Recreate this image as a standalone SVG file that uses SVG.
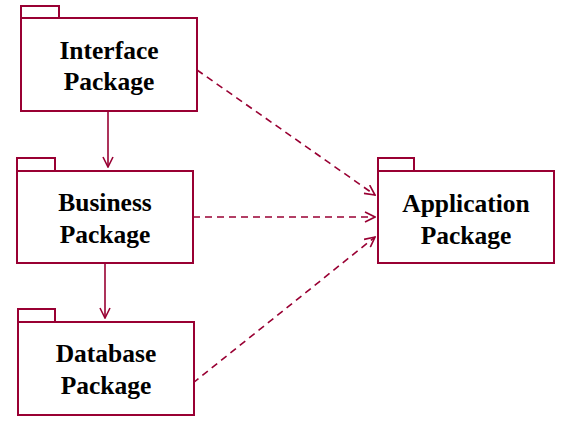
<svg xmlns="http://www.w3.org/2000/svg" width="563" height="428" viewBox="0 0 563 428">
<defs>
<style>
.pk{fill:#fff;stroke:#990033;stroke-width:2}
.t{font-family:"Liberation Serif","Times New Roman",serif;font-weight:bold;font-size:25.5px;text-anchor:middle;fill:#000}
.c{fill:none;stroke:#990033;stroke-width:1.6}
.d{stroke-dasharray:7,5}
</style>
<marker id="ah" viewBox="0 0 12 12" refX="11" refY="6" markerWidth="12" markerHeight="12" markerUnits="userSpaceOnUse" orient="auto">
<path d="M1,1 L11,6 L1,11" fill="none" stroke="#990033" stroke-width="1.6"/>
</marker>
</defs>
<g id="connectors">
<line class="c" x1="108" y1="111" x2="108" y2="167" marker-end="url(#ah)"/>
<line class="c" x1="105" y1="263" x2="105" y2="318" marker-end="url(#ah)"/>
<line class="c d" x1="197" y1="70" x2="375" y2="195" marker-end="url(#ah)"/>
<line class="c d" x1="193" y1="217" x2="375" y2="217" marker-end="url(#ah)"/>
<line class="c d" x1="193" y1="383" x2="375" y2="237" marker-end="url(#ah)"/>
</g>
<g id="interface">
<rect class="pk" x="21" y="6" width="38" height="12"/>
<rect class="pk" x="21" y="18" width="176" height="93"/>
<text class="t" x="109" y="59">Interface</text>
<text class="t" x="109" y="90">Package</text>
</g>
<g id="business">
<rect class="pk" x="17" y="158" width="38" height="13"/>
<rect class="pk" x="17" y="171" width="176" height="92"/>
<text class="t" x="105" y="211">Business</text>
<text class="t" x="105" y="243">Package</text>
</g>
<g id="database">
<rect class="pk" x="18" y="309" width="37" height="13"/>
<rect class="pk" x="18" y="322" width="176" height="93"/>
<text class="t" x="106" y="362">Database</text>
<text class="t" x="106" y="394">Package</text>
</g>
<g id="application">
<rect class="pk" x="378" y="158" width="36" height="13"/>
<rect class="pk" x="378" y="171" width="176" height="92"/>
<text class="t" x="466" y="212">Application</text>
<text class="t" x="466" y="244">Package</text>
</g>
</svg>
